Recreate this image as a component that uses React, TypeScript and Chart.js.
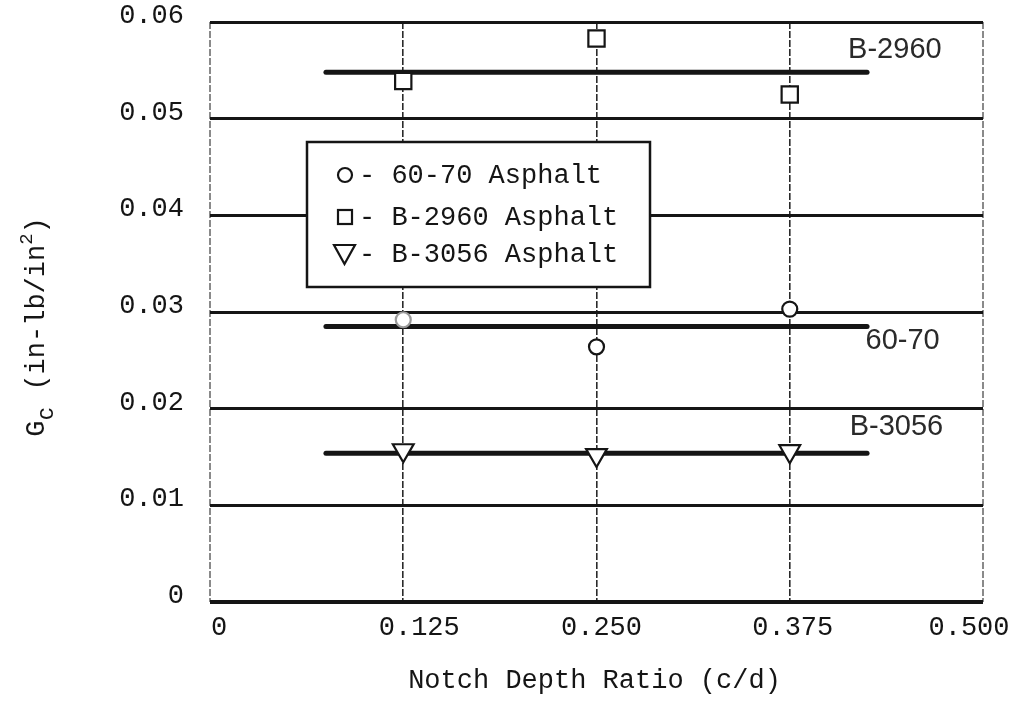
import React, { useEffect, useRef } from 'react';
import { Chart, registerables } from 'chart.js';

Chart.register(...registerables);

// ---- data ----
const notchRatios = [0.125, 0.25, 0.375];
const gc6070 = [0.0292, 0.0264, 0.0303];
const gcB2960 = [0.0539, 0.0583, 0.0525];
const gcB3056 = [0.0157, 0.0152, 0.0156];

const meanSpan = [0.075, 0.425];
const mean6070 = [0.0285, 0.0285];
const meanB2960 = [0.0548, 0.0548];
const meanB3056 = [0.0154, 0.0154];

const xTickValues = [0, 0.125, 0.25, 0.375, 0.5];
const xTickLabels = ['0', '0.125', '0.250', '0.375', '0.500'];
const yTickLabels = ['0', '0.01', '0.02', '0.03', '0.04', '0.05', '0.06'];

const legendLabels = ['60-70 Asphalt', 'B-2960 Asphalt', 'B-3056 Asphalt'];
const curveLabels = ['B-2960', '60-70', 'B-3056'];
const xTitle = 'Notch Depth Ratio (c/d)';

const MONO = '"Liberation Mono", "DejaVu Sans Mono", monospace';
const INK = '#151515';

const pts = (xs: number[], ys: number[]) => xs.map((x, i) => ({ x, y: ys[i] }));

const overlayPlugin = {
  id: 'overlay',
  afterDatasetsDraw(chart: any) {
    const ctx = chart.ctx;
    // legend box
    ctx.save();
    ctx.fillStyle = '#fff';
    ctx.fillRect(307, 142, 343, 145);
    ctx.strokeStyle = INK;
    ctx.lineWidth = 2.5;
    ctx.strokeRect(307, 142, 343, 145);
    const rows = [175, 217, 254];
    ctx.lineWidth = 2.2;
    // circle
    ctx.beginPath();
    ctx.arc(345, rows[0], 7, 0, Math.PI * 2);
    ctx.stroke();
    // square
    ctx.strokeRect(338, rows[1] - 7, 14, 14);
    // triangle (down)
    ctx.beginPath();
    ctx.moveTo(334, rows[2] - 9);
    ctx.lineTo(355, rows[2] - 9);
    ctx.lineTo(344.5, rows[2] + 10);
    ctx.closePath();
    ctx.stroke();
    ctx.fillStyle = INK;
    ctx.font = `27px ${MONO}`;
    ctx.textAlign = 'left';
    ctx.textBaseline = 'middle';
    legendLabels.forEach((t, i) => ctx.fillText('- ' + t, 359, rows[i] + 1));
    ctx.restore();
  },
  afterDraw(chart: any) {
    const ctx = chart.ctx;
    const xs = chart.scales.x;
    const ys = chart.scales.y;
    ctx.save();
    ctx.fillStyle = INK;
    // x tick labels
    const offs = [9, 16, 5, 3, -14];
    ctx.font = `27px ${MONO}`;
    ctx.textAlign = 'center';
    ctx.textBaseline = 'alphabetic';
    xTickValues.forEach((v, i) => {
      ctx.fillText(xTickLabels[i], xs.getPixelForValue(v) + offs[i], 635);
    });
    // x title
    const ca = chart.chartArea;
    ctx.fillText(xTitle, (ca.left + ca.right) / 2 - 2, 688);

    // curve labels
    ctx.font = '29px "Liberation Sans", "DejaVu Sans", sans-serif';
    ctx.fillStyle = '#2a2a2a';
    ctx.textBaseline = 'middle';
    const lx = [0.443, 0.448, 0.444];
    const ly = [0.0571, 0.027, 0.0181];
    curveLabels.forEach((t, i) => {
      ctx.fillText(t, xs.getPixelForValue(lx[i]), ys.getPixelForValue(ly[i]));
    });

    // y title with subscript / superscript
    ctx.fillStyle = INK;
    ctx.translate(44, (ys.top + ys.bottom) / 2 + 15);
    ctx.rotate(-Math.PI / 2);
    ctx.textAlign = 'left';
    ctx.textBaseline = 'alphabetic';
    const parts = [
      { t: 'G', s: 27, dy: 0 },
      { t: 'c', s: 23, dy: 9 },
      { t: ' (in-lb/in', s: 27, dy: 0 },
      { t: '2', s: 19, dy: -12 },
      { t: ')', s: 27, dy: 0 },
    ];
    let total = 0;
    parts.forEach((p) => {
      ctx.font = `${p.s}px ${MONO}`;
      total += ctx.measureText(p.t).width;
    });
    let cx = -total / 2;
    parts.forEach((p) => {
      ctx.font = `${p.s}px ${MONO}`;
      ctx.fillText(p.t, cx, p.dy);
      cx += ctx.measureText(p.t).width;
    });
    ctx.restore();
  },
};

export default function App() {
  const ref = useRef<HTMLCanvasElement | null>(null);

  useEffect(() => {
    if (!ref.current) return;
    const markerCommon = {
      showLine: false,
      pointBackgroundColor: '#fff',
      pointBorderWidth: 2.2,
    };
    const lineCommon = {
      showLine: true,
      borderColor: INK,
      borderWidth: 5,
      borderCapStyle: 'round' as const,
      pointRadius: 0,
      pointHoverRadius: 0,
    };
    const chart = new Chart(ref.current, {
      type: 'scatter',
      data: {
        datasets: [
          {
            label: '60-70 Asphalt',
            data: pts(notchRatios, gc6070),
            pointStyle: 'circle',
            pointRadius: 7.5,
            pointBorderColor: ['#9a9a9a', INK, INK],
            ...markerCommon,
          },
          {
            label: 'B-2960 Asphalt',
            data: pts(notchRatios, gcB2960),
            pointStyle: 'rect',
            pointRadius: 11.5,
            pointBorderColor: INK,
            ...markerCommon,
          },
          {
            label: 'B-3056 Asphalt',
            data: pts(notchRatios, gcB3056),
            pointStyle: 'triangle',
            pointRotation: 180,
            pointRadius: 12,
            pointBorderColor: INK,
            ...markerCommon,
          },
          { label: 'mean 60-70', data: pts(meanSpan, mean6070), ...lineCommon },
          { label: 'mean B-2960', data: pts(meanSpan, meanB2960), ...lineCommon },
          { label: 'mean B-3056', data: pts(meanSpan, meanB3056), ...lineCommon },
        ],
      },
      options: {
        animation: false,
        responsive: true,
        maintainAspectRatio: false,
        layout: { padding: { top: 22, right: 34, left: 0, bottom: 0 } },
        plugins: {
          legend: { display: false },
          tooltip: { enabled: false },
        },
        scales: {
          x: {
            type: 'linear',
            min: 0,
            max: 0.5,
            afterBuildTicks: (scale: any) => {
              scale.ticks = xTickValues.map((value) => ({ value }));
            },
            afterFit: (scale: any) => {
              scale.height = 102;
              scale.paddingLeft = 0;
              scale.paddingRight = 0;
            },
            ticks: { display: false },
            grid: {
              drawTicks: false,
              color: (c: any) => (c.tick && (c.tick.value === 0 || c.tick.value === 0.5) ? '#8a8a8a' : '#2a2a2a'),
              lineWidth: (c: any) => (c.tick && (c.tick.value === 0 || c.tick.value === 0.5) ? 2 : 1.6),
            },
            border: { display: false, dash: [7, 2] },
          },
          y: {
            type: 'linear',
            min: 0,
            max: 0.06,
            afterBuildTicks: (scale: any) => {
              scale.ticks = yTickLabels.map((_, i) => ({ value: i / 100 }));
            },
            afterFit: (scale: any) => {
              scale.width = 210;
              scale.paddingTop = 0;
              scale.paddingBottom = 0;
            },
            ticks: {
              padding: 26,
              labelOffset: -6,
              color: INK,
              font: { family: MONO, size: 27 },
              callback: (_v: any, i: number) => yTickLabels[i],
            },
            grid: {
              drawTicks: false,
              color: INK,
              lineWidth: (c: any) => (c.tick && c.tick.value === 0 ? 4 : 3),
            },
            border: { display: false },
          },
        },
      },
      plugins: [overlayPlugin],
    });
    return () => chart.destroy();
  }, []);

  return (
    <div style={{ position: 'absolute', left: 0, top: 0, width: 1017, height: 704, background: '#fff' }}>
      <canvas ref={ref} />
    </div>
  );
}
